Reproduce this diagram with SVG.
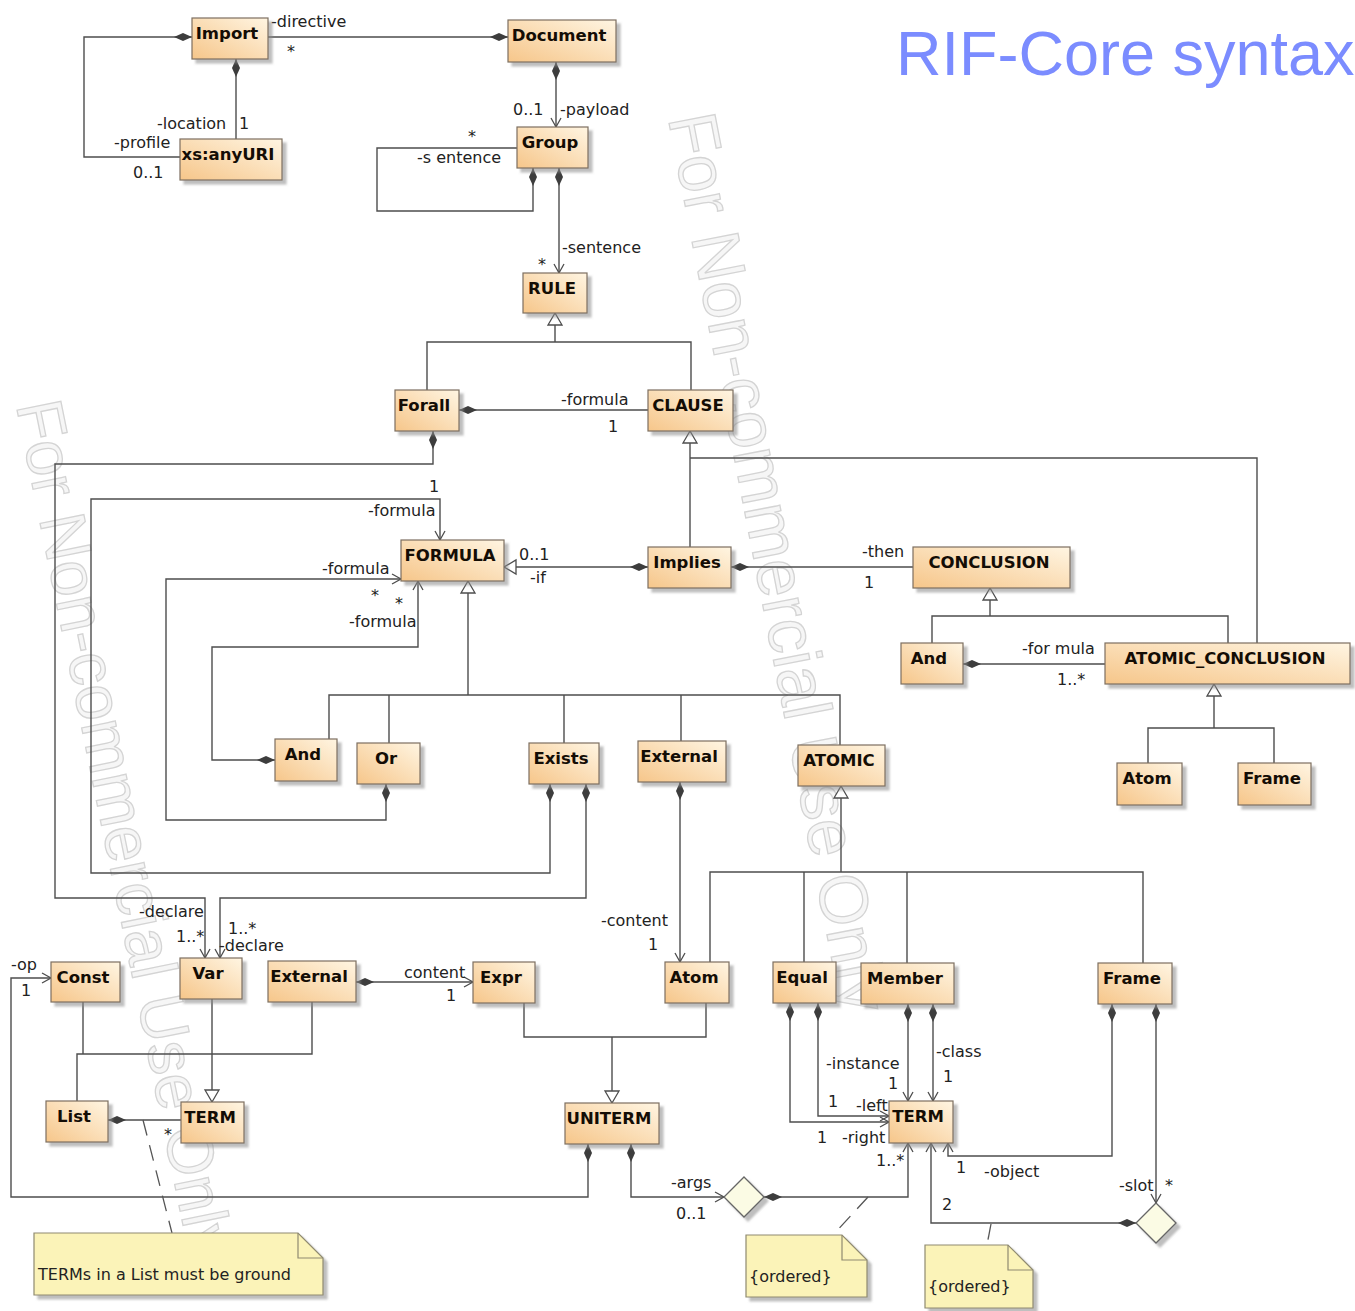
<svg xmlns="http://www.w3.org/2000/svg" width="1355" height="1311" viewBox="0 0 1355 1311">
<defs>
<linearGradient id="g" x1="0" y1="1" x2="1" y2="0">
<stop offset="0" stop-color="#f6c68a"/>
<stop offset="1" stop-color="#fff5e2"/>
</linearGradient>
<filter id="sh" x="-10%" y="-10%" width="130%" height="140%">
<feDropShadow dx="4" dy="4" stdDeviation="1.2" flood-color="#888" flood-opacity="0.55"/>
</filter>
<marker id="dia" viewBox="0 -5 20 10" refX="0" refY="0" markerWidth="20" markerHeight="10" orient="auto" markerUnits="userSpaceOnUse">
<path d="M0,0 L9,-4 L18,0 L9,4 Z" fill="#3d3d3d"/>
</marker>
<marker id="arr" viewBox="-11 -7 13 14" refX="0" refY="0" markerWidth="13" markerHeight="14" orient="auto" markerUnits="userSpaceOnUse">
<path d="M-9,-5 L0,0 L-9,5" fill="none" stroke="#4d4d4d" stroke-width="1.3"/>
</marker>
<marker id="tri" viewBox="-14 -9 16 18" refX="0" refY="0" markerWidth="16" markerHeight="18" orient="auto" markerUnits="userSpaceOnUse">
<path d="M0,0 L-12,-7 L-12,7 Z" fill="#fff" stroke="#4d4d4d" stroke-width="1.3"/>
</marker>
</defs>
<style>
.box { fill: url(#g); stroke: #7d6f60; stroke-width: 1.2; filter: url(#sh); }
.nm { font-family: "DejaVu Sans", "Liberation Sans", sans-serif; font-weight: bold; font-size: 16.5px; fill: #140d05; text-anchor: middle; }
.lb { font-family: "DejaVu Sans", "Liberation Sans", sans-serif; font-size: 16px; fill: #222; }
.c { fill: none; stroke: #4d4d4d; stroke-width: 1.4; }
.d { marker-start: url(#dia); }
.a { marker-end: url(#arr); }
.t { marker-end: url(#tri); }
.dash { fill: none; stroke: #555; stroke-width: 1.3; stroke-dasharray: 16 10; }
.note { fill: #fbf3b8; stroke: #8f8a70; stroke-width: 1.2; filter: url(#sh); }
.fold { fill: none; stroke: #8f8a70; stroke-width: 1.2; }
.nd { fill: #fbfbe4; stroke: #666; stroke-width: 1.3; filter: url(#sh); }
.wm { font-family: "Liberation Sans", sans-serif; fill: #f6f6f6; stroke: #d4d4d4; stroke-width: 1.3; }
.title { font-family: "Liberation Sans", Arial, sans-serif; font-size: 63px; fill: #7b8cff; }
</style>
<rect width="1355" height="1311" fill="#fff"/>
<g id="watermarks">
<text class="wm" font-size="68" transform="translate(668,118) rotate(79)">For Non-commercial Use Only</text>
<text class="wm" font-size="65" transform="translate(16,405) rotate(78.5)">For Non-commercial Use Only</text>
</g>
<text id="title" class="title" x="896" y="75">RIF-Core syntax</text>

<g id="connectors">
<path class="c d" d="M508,37 H268"/>
<path class="c d" d="M192,37 H84 V157 H180"/>
<path class="c d" d="M236,59 V139"/>
<path class="c d a" d="M556,62 V127"/>
<path class="c d" d="M533,168 V211 H377 V148 H517"/>
<path class="c d a" d="M559,168 V273"/>
<path class="c" d="M427,390 V342 H691 V390"/>
<path class="c t" d="M555,342 V313"/>
<path class="c d" d="M459,410 H648"/>
<path class="c d a" d="M433,431 V464 H55 V898 H205 V958"/>
<path class="c d a" d="M550,784 V873 H91 V499 H440 V540"/>
<path class="c d a" d="M586,784 V898 H220 V958"/>
<path class="c d a" d="M386,784 V820 H166 V579 H401"/>
<path class="c d a" d="M275,760 H212 V647 H418 V581"/>
<path class="c" d="M329,739 V695 H840 V745"/>
<path class="c" d="M389,695 V743 M564,695 V743 M681,695 V741"/>
<path class="c t" d="M468,695 V581"/>
<path class="c d t" d="M648,567 H504"/>
<path class="c d" d="M731,567 H913"/>
<path class="c t" d="M690,547 V431"/>
<path class="c" d="M690,458 H1257 V643"/>
<path class="c" d="M932,643 V616 H1228 V643"/>
<path class="c t" d="M990,616 V588"/>
<path class="c d" d="M963,664 H1105"/>
<path class="c" d="M1148,763 V728 H1274 V763"/>
<path class="c t" d="M1214,728 V684"/>
<path class="c d a" d="M680,782 V962"/>
<path class="c" d="M710,962 V872 H1143 V963"/>
<path class="c" d="M804,872 V962 M907,872 V963"/>
<path class="c t" d="M841,872 V786"/>
<path class="c" d="M83,1002 V1054"/>
<path class="c" d="M77,1101 V1054 H312 V1002"/>
<path class="c t" d="M212,999 V1102"/>
<path class="c d" d="M108,1120 H181"/>
<path class="c d a" d="M356,982 H473"/>
<path class="c d a" d="M588,1144 V1197 H11 V978 H51"/>
<path class="c d a" d="M631,1144 V1197 H724"/>
<path class="c" d="M524,1003 V1037 H706 V1003"/>
<path class="c t" d="M612,1037 V1103"/>
<path class="c d a" d="M764,1197 H908 V1143"/>
<path class="c d a" d="M790,1003 V1122 H889"/>
<path class="c d a" d="M818,1003 V1116 H889"/>
<path class="c d a" d="M908,1004 V1101"/>
<path class="c d a" d="M933,1004 V1101"/>
<path class="c d a" d="M1112,1004 V1156 H948 V1143"/>
<path class="c d a" d="M1156,1004 V1203"/>
<path class="c d a" d="M1136,1223 H931 V1143"/>
<path class="dash" d="M143,1120 L172,1233"/>
<path class="dash" d="M868,1197 L833,1235"/>
<path class="dash" d="M991,1224 L987,1245"/>
</g>

<g id="labels">
<text class="lb" x="271" y="27">-directive</text>
<text class="lb" x="287" y="57">*</text>
<text class="lb" x="157" y="129">-location</text>
<text class="lb" x="239" y="129">1</text>
<text class="lb" x="114" y="148">-profile</text>
<text class="lb" x="133" y="178">0..1</text>
<text class="lb" x="513" y="115">0..1</text>
<text class="lb" x="560" y="115">-payload</text>
<text class="lb" x="468" y="142">*</text>
<text class="lb" x="417" y="163">-s entence</text>
<text class="lb" x="562" y="253">-sentence</text>
<text class="lb" x="538" y="270">*</text>
<text class="lb" x="561" y="405">-formula</text>
<text class="lb" x="608" y="432">1</text>
<text class="lb" x="429" y="492">1</text>
<text class="lb" x="368" y="516">-formula</text>
<text class="lb" x="322" y="574">-formula</text>
<text class="lb" x="371" y="601">*</text>
<text class="lb" x="395" y="609">*</text>
<text class="lb" x="349" y="627">-formula</text>
<text class="lb" x="519" y="560">0..1</text>
<text class="lb" x="530" y="583">-if</text>
<text class="lb" x="862" y="557">-then</text>
<text class="lb" x="864" y="588">1</text>
<text class="lb" x="1022" y="654">-for mula</text>
<text class="lb" x="1057" y="685">1..*</text>
<text class="lb" x="601" y="926">-content</text>
<text class="lb" x="648" y="950">1</text>
<text class="lb" x="139" y="917">-declare</text>
<text class="lb" x="176" y="942">1..*</text>
<text class="lb" x="228" y="934">1..*</text>
<text class="lb" x="219" y="951">-declare</text>
<text class="lb" x="11" y="970">-op</text>
<text class="lb" x="21" y="996">1</text>
<text class="lb" x="404" y="978">content</text>
<text class="lb" x="446" y="1001">1</text>
<text class="lb" x="164" y="1140">*</text>
<text class="lb" x="671" y="1188">-args</text>
<text class="lb" x="676" y="1219">0..1</text>
<text class="lb" x="826" y="1069">-instance</text>
<text class="lb" x="888" y="1089">1</text>
<text class="lb" x="936" y="1057">-class</text>
<text class="lb" x="943" y="1082">1</text>
<text class="lb" x="828" y="1107">1</text>
<text class="lb" x="856" y="1111">-left</text>
<text class="lb" x="817" y="1143">1</text>
<text class="lb" x="842" y="1143">-right</text>
<text class="lb" x="876" y="1166">1..*</text>
<text class="lb" x="956" y="1173">1</text>
<text class="lb" x="984" y="1177">-object</text>
<text class="lb" x="1119" y="1191">-slot</text>
<text class="lb" x="1165" y="1191">*</text>
<text class="lb" x="942" y="1210">2</text>
</g>

<g id="Import"><rect class="box" x="192" y="18" width="76" height="41"/><text class="nm" x="227" y="39">Import</text></g>
<g id="xsanyURI"><rect class="box" x="180" y="139" width="102" height="41"/><text class="nm" x="228" y="160">xs:anyURI</text></g>
<g id="Document"><rect class="box" x="508" y="20" width="108" height="42"/><text class="nm" x="559" y="41">Document</text></g>
<g id="Group"><rect class="box" x="517" y="127" width="71" height="41"/><text class="nm" x="550" y="148">Group</text></g>
<g id="RULE"><rect class="box" x="523" y="273" width="64" height="40"/><text class="nm" x="552" y="294">RULE</text></g>
<g id="Forall"><rect class="box" x="395" y="390" width="64" height="41"/><text class="nm" x="424" y="411">Forall</text></g>
<g id="CLAUSE"><rect class="box" x="648" y="390" width="85" height="41"/><text class="nm" x="688" y="411">CLAUSE</text></g>
<g id="FORMULA"><rect class="box" x="401" y="540" width="103" height="41"/><text class="nm" x="450" y="561">FORMULA</text></g>
<g id="Implies"><rect class="box" x="648" y="547" width="83" height="41"/><text class="nm" x="687" y="568">Implies</text></g>
<g id="CONCLUSION"><rect class="box" x="913" y="547" width="157" height="41"/><text class="nm" x="989" y="568">CONCLUSION</text></g>
<g id="And_concl"><rect class="box" x="901" y="643" width="62" height="41"/><text class="nm" x="929" y="664">And</text></g>
<g id="ATOMIC_CONCLUSION"><rect class="box" x="1105" y="643" width="245" height="41"/><text class="nm" x="1225" y="664">ATOMIC_CONCLUSION</text></g>
<g id="Atom_concl"><rect class="box" x="1117" y="763" width="65" height="42"/><text class="nm" x="1147" y="784">Atom</text></g>
<g id="Frame_concl"><rect class="box" x="1238" y="763" width="73" height="42"/><text class="nm" x="1272" y="784">Frame</text></g>
<g id="And"><rect class="box" x="275" y="739" width="62" height="42"/><text class="nm" x="303" y="760">And</text></g>
<g id="Or"><rect class="box" x="357" y="743" width="63" height="41"/><text class="nm" x="386" y="764">Or</text></g>
<g id="Exists"><rect class="box" x="529" y="743" width="70" height="41"/><text class="nm" x="561" y="764">Exists</text></g>
<g id="External_formula"><rect class="box" x="638" y="741" width="88" height="41"/><text class="nm" x="679" y="762">External</text></g>
<g id="ATOMIC"><rect class="box" x="798" y="745" width="87" height="41"/><text class="nm" x="839" y="766">ATOMIC</text></g>
<g id="Const"><rect class="box" x="51" y="962" width="69" height="40"/><text class="nm" x="83" y="983">Const</text></g>
<g id="Var"><rect class="box" x="180" y="958" width="62" height="41"/><text class="nm" x="208" y="979">Var</text></g>
<g id="External_term"><rect class="box" x="268" y="961" width="88" height="41"/><text class="nm" x="309" y="982">External</text></g>
<g id="Expr"><rect class="box" x="473" y="962" width="62" height="41"/><text class="nm" x="501" y="983">Expr</text></g>
<g id="Atom"><rect class="box" x="665" y="962" width="64" height="41"/><text class="nm" x="694" y="983">Atom</text></g>
<g id="Equal"><rect class="box" x="773" y="962" width="63" height="41"/><text class="nm" x="802" y="983">Equal</text></g>
<g id="Member"><rect class="box" x="861" y="963" width="93" height="41"/><text class="nm" x="905" y="984">Member</text></g>
<g id="Frame"><rect class="box" x="1098" y="963" width="74" height="41"/><text class="nm" x="1132" y="984">Frame</text></g>
<g id="List"><rect class="box" x="46" y="1101" width="62" height="41"/><text class="nm" x="74" y="1122">List</text></g>
<g id="TERM_list"><rect class="box" x="181" y="1102" width="63" height="41"/><text class="nm" x="210" y="1123">TERM</text></g>
<g id="UNITERM"><rect class="box" x="565" y="1103" width="94" height="41"/><text class="nm" x="609" y="1124">UNITERM</text></g>
<g id="TERM"><rect class="box" x="889" y="1101" width="64" height="42"/><text class="nm" x="918" y="1122">TERM</text></g>
<g id="args_assoc"><polygon class="nd" points="744,1177 764,1197 744,1217 724,1197"/></g>
<g id="slot_assoc"><polygon class="nd" points="1156,1203 1176,1223 1156,1243 1136,1223"/></g>
<g id="note_list"><path class="note" d="M34,1233 H298 L323,1258 V1295 H34 Z"/><path class="fold" d="M298,1233 V1258 H323"/><text class="lb" x="38" y="1280">TERMs in a List must be ground</text></g>
<g id="note_args"><path class="note" d="M746,1235 H842 L867,1260 V1297 H746 Z"/><path class="fold" d="M842,1235 V1260 H867"/><text class="lb" x="749" y="1282">{ordered}</text></g>
<g id="note_slot"><path class="note" d="M925,1245 H1008 L1033,1270 V1308 H925 Z"/><path class="fold" d="M1008,1245 V1270 H1033"/><text class="lb" x="928" y="1292">{ordered}</text></g>
</svg>
